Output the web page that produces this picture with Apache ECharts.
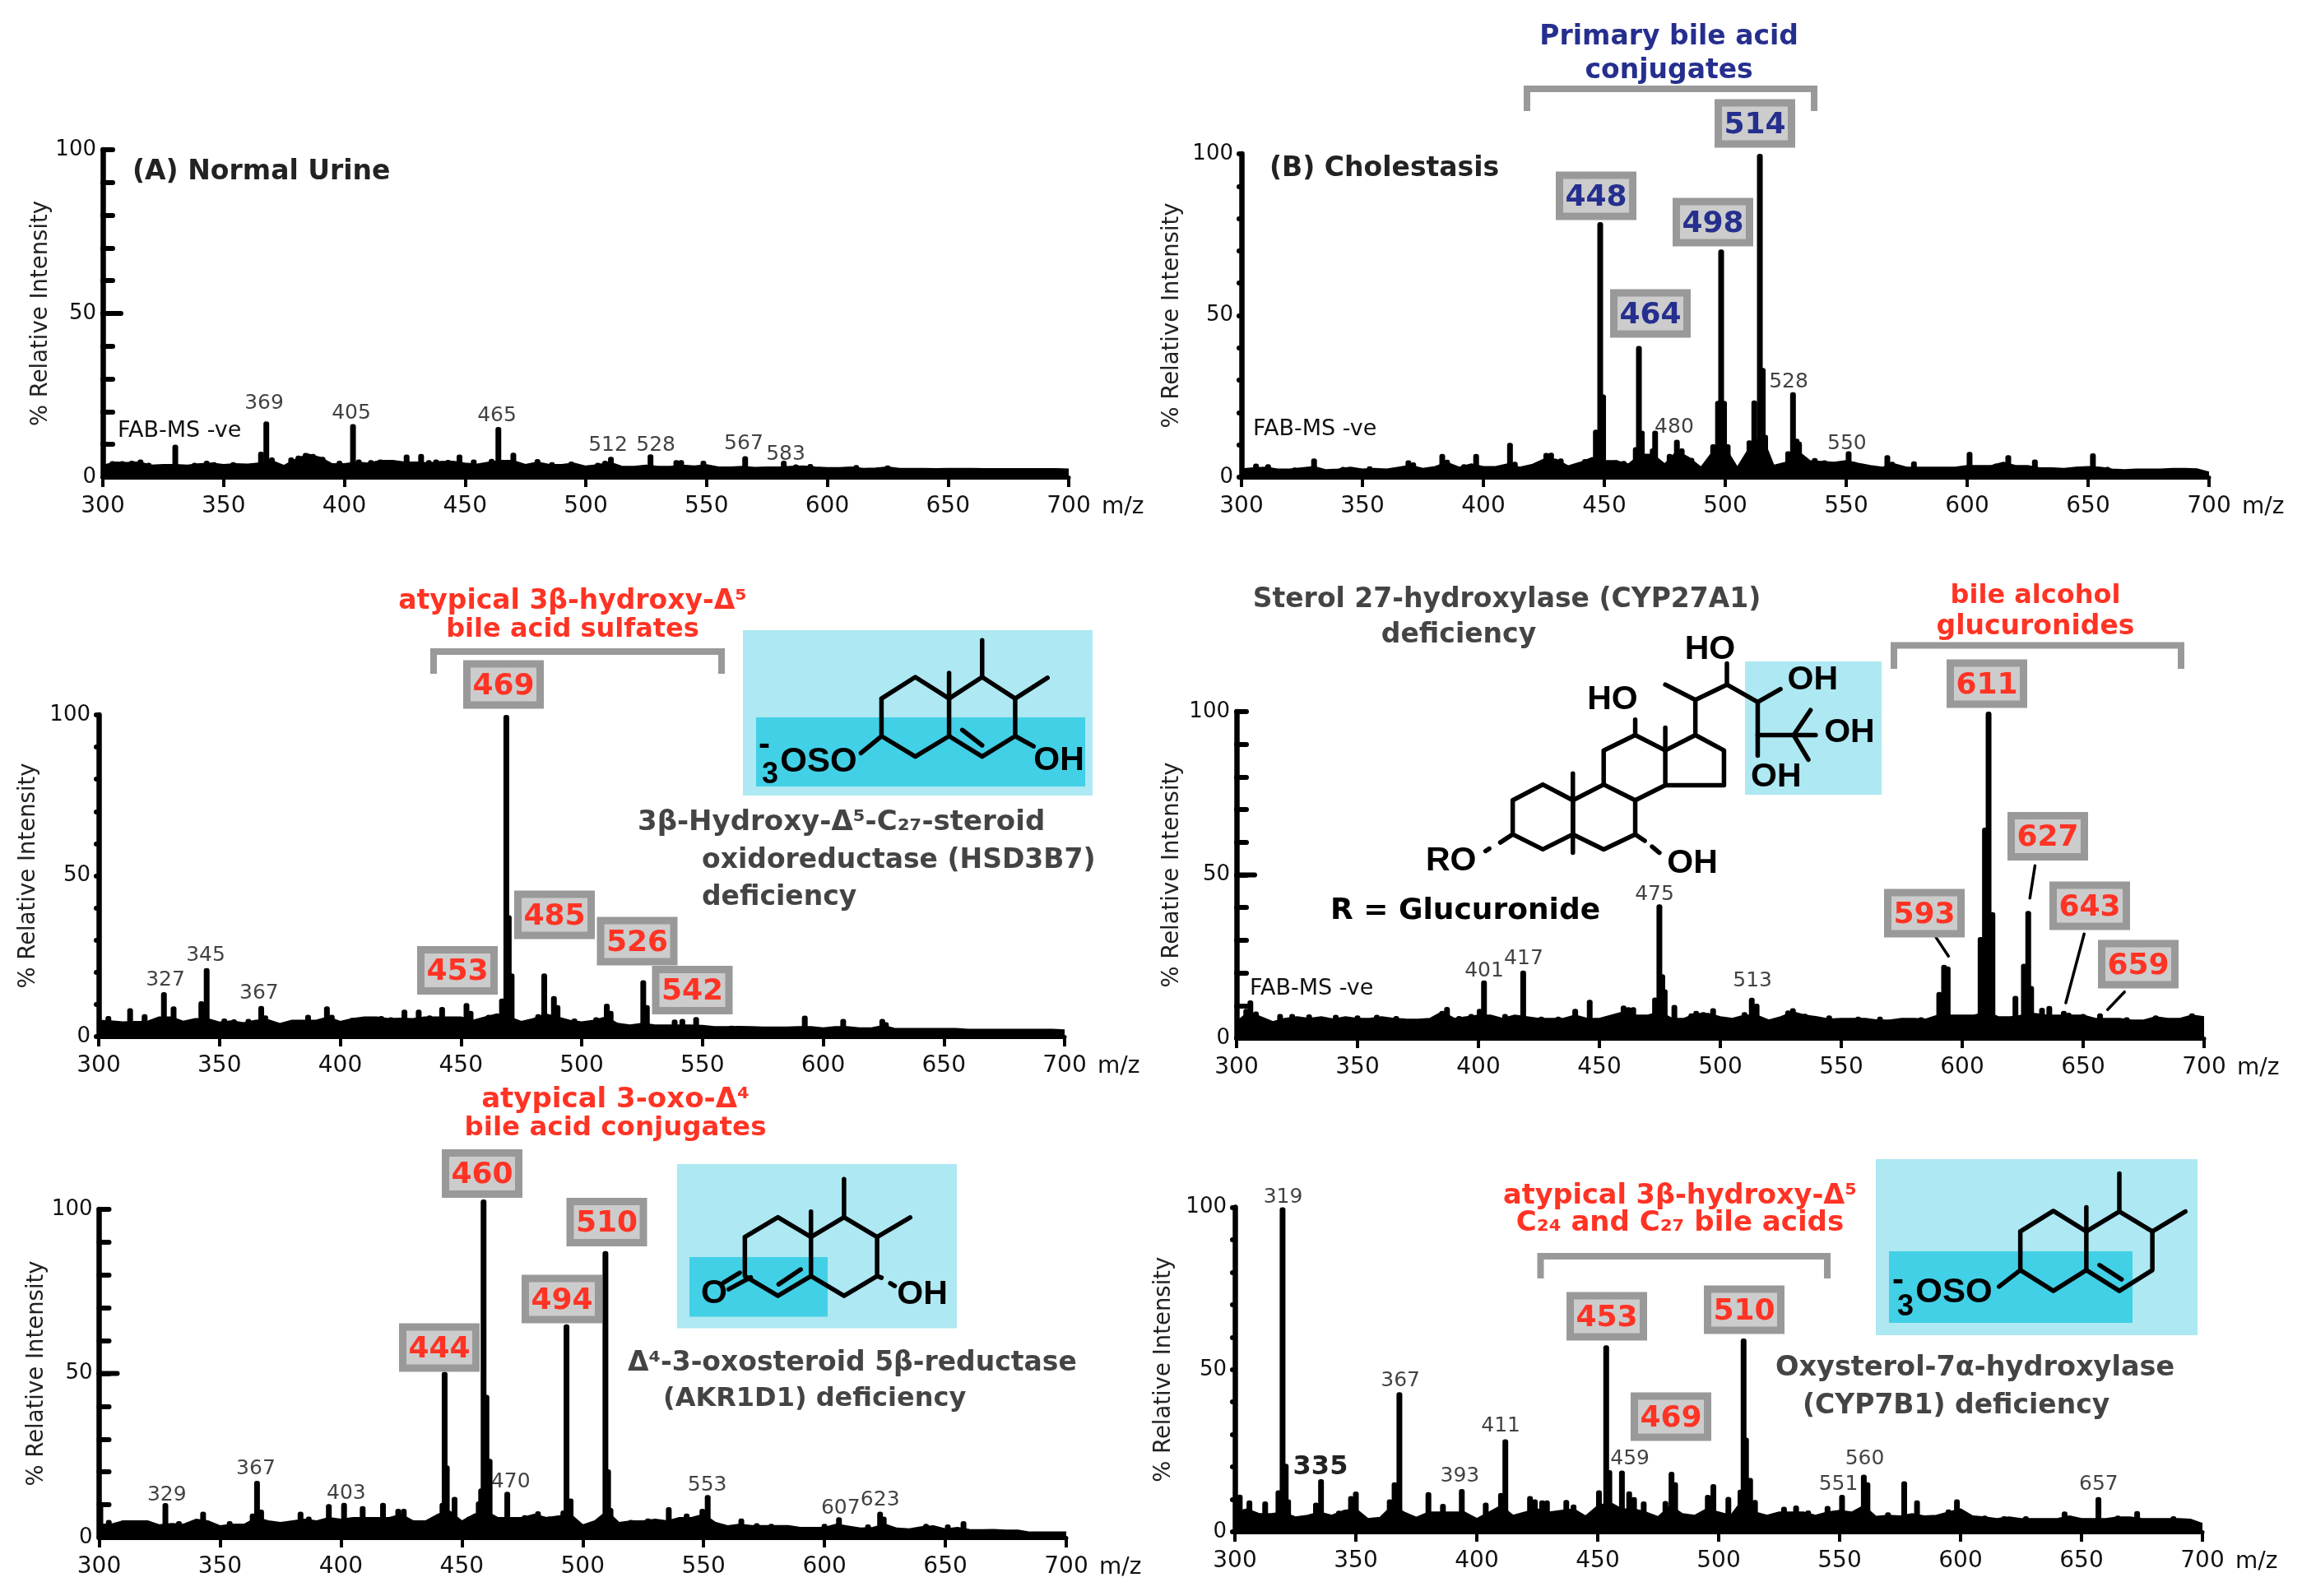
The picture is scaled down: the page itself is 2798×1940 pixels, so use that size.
<!DOCTYPE html>
<html>
<head>
<meta charset="utf-8">
<style>html,body{margin:0;padding:0;background:#fff}#c{width:2798px;height:1940px}</style>
<script src="https://cdn.jsdelivr.net/npm/echarts@6/dist/echarts.min.js"></script>
</head>
<body>
<div id="c"></div>
<script>
// ---------- DATA (m/z, % relative intensity) ----------
const envelopeA=[3.5,4.5,4.4,4.6,3.6,3.8,3.8,3.6,4.0,4.2,3.8,4.0,3.9,4.3,5.0,3.5,5.5,7,6,4,4,4.5,4.2,5,5,4.5,4.5,4.3,4.7,4.8,4.2,3.9,4.5,5,5,3.8,4.5,3.8,3.8,4.2,3.3,3.7,4.5,3.2,3.2,3.6,3.2,3.2,3.6,3.3,3.7,3.0,3.0,3.2,2.9,3.0,3.0,3.2,3.3,3,2.8,2.8,3,2.6,2.7,3,2.6,2.6,2.6,2.5,2.6,2.6,2.6,2.5,2.5,2.5,2.5,2.5,2.5,2.5,2.4];
const envelopeB=[2.5,2.8,3,2.4,2.4,2.8,3.2,2.2,2.4,3,2.4,2.6,2.4,3,3.6,2.6,3.2,4.5,3,4,3.2,3.2,4,3,3.8,5.5,5.5,3.4,4.5,6,5,5,4,7,7,4,8,6,3,8,9,3,9,13,3.6,4.5,8,5,4.8,4.5,5,4.2,3.5,3,4,3,3,3,3,3,3.5,3.5,3.5,4.5,3.5,3.5,2.8,2.8,2.6,3,3.2,3,2.4,2.2,2.4,2.4,2.4,2.6,2.6,2.5,1.5];
const envelopeC=[5,4.8,4.5,4.6,4.6,6,6,4.7,5.5,5.5,4.4,4.8,4.2,5,5.2,4,5,5,5,6,4.6,5.5,6,6,5.5,5.6,5.5,6,6,6,6,5,6,7,6,4.6,5.5,7,6,5,4.5,5,6,4,3.5,4,3.6,3.5,3.5,3.5,3.4,3,3,3.1,3,2.9,2.9,2.9,3,3,2.6,3,3,2.6,2.6,3.4,2.4,2.4,2.4,2.4,2.4,2.4,2.2,2.2,2.2,2.2,2.2,2.2,2.2,2.2,2.0];
const envelopeD=[5,8,6.5,5,6,6.5,6,6.5,5.8,6.5,6,6,6.5,6,5.8,5.7,6,8,6,6.5,7,7,6,7,6.5,6,6,6,7,6,6,7,8,7,7,8,6,6,7.5,7.5,6.5,6,7,7,5.5,6.5,8,7,6.5,5.8,6,6,6,5.5,5.5,6,6,5.8,7,7,7,7,8,6.5,6.5,7,7.5,7,7,7,7,6,6,6,5.5,5.5,6.5,6,6,7,6.5];
const envelopeE=[4,4,5,5,5,3.8,4.2,4,5.5,5,3.5,4,4,6,5,4.5,5,5.5,5,6,5.5,6,6,6,6,7,5,5,7,8,5,7,8,6,6,6,7,6,6.5,7,3.8,5,8,4.5,5,5,5.5,5,6,6,7,4.5,3.5,4,3.6,3.6,3.6,3.6,3,3,3,4,3.4,2.8,3,4,2.8,2.6,3.2,3.5,2.6,3,2.4,2.3,2.4,2.2,2.2,1.6,1.6,1.6,1.6];
const envelopeF=[6,7,5.5,5.5,6,4.5,5,6,5,6.5,7,4,4.4,8,6,4.4,6,6,6,6,4,6,8,5,6,7,6,6.5,7,4.8,8,9,7,7,6,4.6,8,5.5,5,7,6,5,10,6,5,6,6,6,5,6,6.5,6,8,4.7,5,4.8,5.5,4.8,5,6,7,4.8,4.5,4,4.5,4,4,4,4,4.8,4,4,4,4.5,4.5,4,4,4,4,3.8,2.5];

const peaksA=[[304,4.9],[308,4.9],[312,5],[315.6,5.4],[319,4.4],[330,9.9],[338,4.4],[343,5],[346,4.6],[354,4.6],[365.5,7.8],[367.7,17],[370,6],[378,6],[381,6.6],[384,7.4],[387,7.1],[391,6.2],[398,5],[403.6,16.2],[406,5.4],[411,5.2],[415,5.4],[419,5.2],[425.8,6.9],[431.8,7.1],[435,5.2],[438,5.4],[443,5.3],[447.7,6.9],[453.6,5.4],[461,5.6],[463.8,15.3],[470,7.5],[480,5.5],[486,4.6],[494,4.8],[505,4.4],[508,5],[510.4,6.2],[526.8,7],[537.5,5.2],[539.5,5.2],[548.7,5],[566,6.4],[582,5],[587,3.9],[593,4],[612,3.7],[625,3.6]];
const peaksB=[[306,4.2],[311,4],[322,3],[330,5.8],[342,3.2],[353,3.4],[369,5.2],[371,4.6],[383,7.2],[385,5.4],[392,4],[397,7.2],[411,10.6],[413,4.8],[426,7.5],[428,7.6],[432,5.8],[442,5.6],[446.5,14.7],[448.3,78.9],[449.5,25.6],[455,5.2],[458,5],[463,9.3],[464.3,40.6],[465.5,14.4],[470,8.9],[471,14.4],[477,7.2],[480,11.6],[482,8.9],[486,6],[495,10.2],[497,23.6],[498.3,70.4],[499.5,23.6],[501,10.2],[510,11.4],[512,23.7],[514.3,100],[515.5,33.8],[516.5,13.1],[526,8],[528,26.3],[529.5,11.9],[530.5,11],[537,5.9],[541,5.2],[551,8],[553,4.8],[567,6.8],[569,4.8],[578,4.9],[601,7.8],[612,4.2],[617,6.8],[628,5.5],[652,7.4],[658,3.2]];
const peaksC=[[304,6.4],[313,8.8],[319,7],[327,13.8],[331,9.4],[342.5,11],[344.7,21.3],[352,5.6],[356,5.4],[362,5.5],[367.3,9.5],[369,6.6],[386.7,6.8],[394.5,9.4],[396.5,6.8],[405,5.8],[412,6],[417,6.4],[421,6],[426.6,8.4],[432.5,8.4],[437,6.6],[442.2,9.2],[452.3,10.4],[454,8],[461.5,6.8],[467,11.8],[468.8,100],[469.8,37.7],[471,19.6],[482,7],[484.5,19.6],[488.5,12.6],[490,9.8],[497,5.6],[506,6],[510.4,10.2],[512,8],[525.5,17.5],[527,9.8],[538.5,5.3],[541.7,5.5],[547.4,6.1],[562,3.4],[592.4,6.5],[608.3,5.5],[624.5,5.5],[626,4.5]];
const peaksD=[[304,9],[305.7,11.6],[308,8.2],[318,7.4],[323,7.4],[330,7.3],[341,7.2],[350,7],[358,7.2],[366,6.8],[385,8.4],[387,9.6],[392,6.8],[397,7.4],[400.5,9],[402.3,17.7],[411,7.4],[418.5,20.7],[426,6.6],[433,6.6],[440,9],[446,11.8],[460,10],[462,9.5],[464,9.5],[473,12.5],[474.8,41],[476,19.6],[477,15],[481,10.2],[488,7.6],[490,8.4],[493,8],[497,9.2],[510,8],[513,12.4],[515,10.6],[528,8.5],[530,9.2],[535,7.5],[545,7],[557,6.6],[566,6.6],[583,6.4],[590.5,14.2],[592.5,22.5],[594,22],[607.6,31],[609.4,64.5],[610.9,100],[612.5,38.6],[622,13],[625.5,22.8],[627.3,39],[628.5,16],[633,9.3],[636,9.9],[642,8.4],[644,7.8],[650,7.4],[657,7.6],[668,6.4],[680,7],[695,7.6]];
const peaksE=[[300.5,9.8],[304,5.4],[310,5.2],[316,5.2],[327.4,10.5],[333,5],[343,7.9],[354,5],[363.5,7.3],[365.3,17.3],[367,8.5],[383.3,7.9],[386.7,6.4],[395,10.2],[401.3,10.6],[409,9.6],[417.4,10.6],[423.7,8.8],[426,8.8],[442,10.6],[442.9,50.5],[443.8,22],[447,12.4],[453,6.4],[457,11],[458,15],[459,103],[460.2,43.5],[461.5,24],[468.8,14],[476,6.8],[481.5,8],[486,6.4],[492,8.3],[493.3,65],[495,11.9],[509.4,87.3],[510.5,20.8],[511.5,9],[520,5.4],[527,5.8],[535.6,9.3],[543,7.3],[549.5,8.8],[551.7,13],[565.6,5.8],[572,4.4],[578,4.2],[600,4.2],[606,6.2],[618,4],[623,7.9],[624.5,6.4],[642,4.2],[651,4],[657.5,5]];
const peaksF=[[302,11.5],[306,9.7],[312.5,9.4],[318,12.8],[319.7,100],[321,21],[322,10],[333.5,9],[335.6,16.2],[343,6.5],[348,11],[350,12.4],[364,10],[366,15.3],[368,43],[380,12.2],[386,8.6],[393.8,13.2],[403.7,9],[410,12],[411.8,28.5],[422,11],[424,10],[427,9.7],[429,9.7],[437,9.8],[440,8.4],[450.5,12.8],[453.5,57.5],[454.8,19],[460,18.9],[463,12.5],[465,10.7],[469,9.4],[478,9.5],[480.5,18.5],[482,15.3],[495.5,11.4],[497.8,14.7],[504,10.8],[509,13],[510.3,59.6],[511.3,29],[513,16.6],[515,9.8],[527,7.7],[532,8.1],[537,6.6],[545,8],[551,11.4],[560,17.6],[561.5,15.3],[570,6],[576.7,15.6],[582,9.7],[595,6.9],[598.5,10],[601,6.5],[610,5],[618,4.8],[627,4.8],[643,6.3],[657,10.7],[665,5],[673,6.4],[688,4.8]];

const labelsA=[[366.8,23.1,'369'],[402.9,20.1,'405'],[463.2,19.3,'465'],[509.2,10.3,'512'],[529,10.3,'528'],[565.4,10.8,'567'],[582.8,7.3,'583']];
const labelsB=[[478.9,16,'480'],[526.2,29.8,'528'],[550.3,10.7,'550']];
const labelsC=[[327.6,18.1,'327'],[344.3,25.6,'345'],[366.4,14,'367']];
const labelsD=[[402.4,21.1,'401'],[418.7,24.7,'417'],[472.8,44.5,'475'],[513.3,17.9,'513']];
const labelsE=[[328,13.5,'329'],[364.8,21.5,'367'],[402.2,13.8,'403'],[470.2,17.5,'470'],[551.5,16.5,'553'],[606.7,9.3,'607'],[623,11.8,'623']];
const labelsF=[[319.9,103.6,'319'],[368.4,47.1,'367'],[393,17.5,'393'],[409.9,33.2,'411'],[463.3,23,'459'],[549.5,15.2,'551'],[560.4,23,'560'],[657.1,15,'657']];
const tickLabelsX=['300','350','400','450','500','550','600','650','700'];
const tickLabelsY=['0','50','100'];

// ---------- LAYOUT ----------
const panels=[
 {env:envelopeA,peaks:peaksA,labels:labelsA,x0:125,x1:1299,yT:182,yB:580,inside:true,gap:61},
 {env:envelopeB,peaks:peaksB,labels:labelsB,x0:1509,x1:2685,yT:187,yB:580,inside:false,gap:70},
 {env:envelopeC,peaks:peaksC,labels:labelsC,x0:120,x1:1294,yT:869,yB:1260,inside:false,gap:71},
 {env:envelopeD,peaks:peaksD,labels:labelsD,x0:1503,x1:2679,yT:865,yB:1262,inside:true,gap:64},
 {env:envelopeE,peaks:peaksE,labels:labelsE,x0:120.5,x1:1296,yT:1470,yB:1869,inside:true,gap:62},
 {env:envelopeF,peaks:peaksF,labels:labelsF,x0:1501,x1:2677,yT:1467.5,yB:1862,inside:false,gap:72}
];
const FONT='"DejaVu Sans"';
const NAVY='#252f8e',RED='#ff3324',DGREY='#444444',GREY='#999999',PALE='#aee8f2',CYAN='#42d0e6';
const g=[];
function T(text,x,y,size,fill,bold,align,family){
  g.push({type:'text',x:x,y:y+1.5,z:20,style:{text:text,fill:fill||'#111',font:(bold?'bold ':'')+size+'px '+(family||FONT),textAlign:align||'center',textVerticalAlign:'middle'}});
}
function R(x0,y0,x1,y1,fill){g.push({type:'rect',z:5,shape:{x:x0,y:y0,width:x1-x0,height:y1-y0},style:{fill:fill}});}
function box(cx,cy,text,color){
  g.push({type:'rect',z:30,shape:{x:cx-44.5,y:cy-25,width:89,height:50},style:{fill:'#cccccc',stroke:GREY,lineWidth:9}});
  g.push({type:'text',x:cx,y:cy+2.5,z:31,style:{text:text,fill:color,font:'bold 36px '+FONT,textAlign:'center',textVerticalAlign:'middle'}});
}
function bracket(x0,x1,yt,yb){
  g.push({type:'polyline',z:6,shape:{points:[[x0,yb],[x0,yt],[x1,yt],[x1,yb]]},style:{stroke:GREY,lineWidth:8,fill:null}});
}
function bonds(map,list,w){
  list.forEach(p=>g.push({type:'polyline',z:15,shape:{points:p.map(map)},style:{stroke:'#000',lineWidth:w||5.5,fill:null,lineCap:'round',lineJoin:'round'}}));
}
const SF='"Liberation Sans"';

// Panel A
T('(A) Normal Urine',161,208,33,'#222',true,'left');
T('FAB-MS -ve',143,522,27,'#111',false,'left');
// Panel B
T('(B) Cholestasis',1543,204,33,'#222',true,'left');
T('FAB-MS -ve',1523,520,27,'#111',false,'left');
T('Primary bile acid',2028.6,44,33,NAVY,true);
T('conjugates',2028.6,85,33,NAVY,true);
bracket(1856,2205,108,135);
box(2133,150,'514',NAVY);box(1940,238,'448',NAVY);box(2082,270,'498',NAVY);box(2006,381,'464',NAVY);
// Panel C
T('atypical 3β-hydroxy-Δ⁵',696,730,33,RED,true);
T('bile acid sulfates',696,764,32,RED,true);
bracket(527,877,792,819);
box(612,832,'469',RED);box(674,1112,'485',RED);box(774.5,1144,'526',RED);box(556,1179.5,'453',RED);box(841.5,1203.5,'542',RED);
R(903,766,1328,967,PALE);R(919,872,1319,956,CYAN);
const mC=p=>[p[0]/1.12,680+p[1]/2.412];
bonds(mC,[[[1200,408],[1246,345],[1292,408],[1292,518],[1246,578],[1200,518],[1200,408]],[[1292,408],[1337,345],[1382,408],[1382,518],[1337,578],[1292,518]],[[1337,345],[1337,237]],[[1292,408],[1292,333]],[[1382,408],[1426,347]],[[1310,500],[1337,545]],[[1200,518],[1172,568]],[[1382,518],[1407,548]]]);
T('OH',1287,923,41,'#000',true,'center',SF);
T('OSO',995,925,42,'#000',true,'center',SF);
T('3',936,941,36,'#000',true,'center',SF);
T('-',929,905,42,'#000',true,'center',SF);
T('3β-Hydroxy-Δ⁵-C₂₇-steroid',775,999,34,DGREY,true,'left');
T('oxidoreductase (HSD3B7)',853,1045,33,DGREY,true,'left');
T('deficiency',853,1090,33,DGREY,true,'left');
// Panel D
T('FAB-MS -ve',1519,1200,27,'#111',false,'left');
T('Sterol 27-hydroxylase (CYP27A1)',1831.5,728,33,DGREY,true);
T('deficiency',1773,771,33,DGREY,true);
T('bile alcohol',2474,723.5,32,RED,true);
T('glucuronides',2474,761,33,RED,true);
bracket(2302,2651,784.5,813);
box(2415,831,'611',RED);box(2489,1016.5,'627',RED);box(2339,1110,'593',RED);box(2540,1101,'643',RED);box(2599,1172,'659',RED);
R(2121,804,2287,966,PALE);
const mD=p=>[1400+p[0]/1.1216,680+p[1]/2.412];
bonds(mD,[[[1069,1108],[1086,1163]],[[1204,898],[1197,993]],[[1271,1098],[1246,1300]],[[1326,1268],[1303,1320]]],3.5);
bonds(mD,[[[492,706],[533,660],[574,706],[574,806],[533,850],[492,806],[492,706]],[[574,706],[616,660],[659,706],[659,806],[616,850],[574,806]],[[616,660],[616,560],[659,515],[700,560],[700,662],[659,706]],[[700,560],[741,515],[780,560],[780,662],[700,662]],[[574,628],[574,860]],[[700,493],[700,560]],[[659,515],[659,470]],[[741,515],[741,412],[700,367]],[[741,412],[784,367],[826,418],[857,380]],[[784,367],[784,305]],[[826,418],[826,575]],[[826,515],[905,515]],[[875,515],[898,442]],[[875,515],[895,587]],[[492,806],[475,830]],[[460,848],[455,855]],[[659,806],[672,825]],[[682,842],[692,860]]]);
[['HO',761,262],['HO',628,408],['OH',901,350],['OH',951,505],['OH',851,635],['RO',408,880],['OH',737,888]].forEach(a=>{const q=mD([a[1],a[2]]);T(a[0],q[0],q[1],41,'#000',true,'center',SF);});
T('R = Glucuronide',1617,1106,36,'#000',true,'left');
// Panel E
T('atypical 3-oxo-Δ⁴',748,1336,34,RED,true);
T('bile acid conjugates',748,1370,32.5,RED,true);
box(586,1426.5,'460',RED);box(737.5,1485.5,'510',RED);box(683,1579,'494',RED);box(534,1638,'444',RED);
R(823,1415,1163,1614.5,PALE);R(838,1528,1006,1600.5,CYAN);
const mE=p=>[p[0]/1.12,1310+p[1]/2.489];
bonds(mE,[[[1014,482],[1059,422],[1104,482],[1104,600],[1059,660],[1014,600],[1014,482]],[[1104,482],[1149,422],[1194,482],[1194,600],[1149,660],[1104,600]],[[1149,422],[1149,307]],[[1104,482],[1104,405]],[[1194,482],[1239,423]],[[1007,590],[985,620]],[[1022,604],[992,640]],[[1060,625],[1090,580]],[[1194,600],[1200,605]],[[1212,622],[1218,630]]]);
T('O',868,1571,41,'#000',true,'center',SF);
T('OH',1121,1572,41,'#000',true,'center',SF);
T('Δ⁴-3-oxosteroid 5β-reductase',763,1655.5,33,DGREY,true,'left');
T('(AKR1D1) deficiency',806,1699,32,DGREY,true,'left');
// Panel F
T('335',1605,1782,32,'#222',true);
T('atypical 3β-hydroxy-Δ⁵',2042,1452.6,33.5,RED,true);
T('C₂₄ and C₂₇ bile acids',2042,1485.6,34,RED,true);
bracket(1872.5,2221,1527,1554);
box(1953,1600,'453',RED);box(2120,1592,'510',RED);box(2031,1722,'469',RED);
R(2280,1409,2671,1623,PALE);R(2296,1521,2592,1608,CYAN);
const mF=p=>[1400+p[0]/1.1216,1310+p[1]/2.489];
bonds(mF,[[[1184,465],[1229,403],[1274,465],[1274,582],[1229,645],[1184,582],[1184,465]],[[1274,465],[1319,405],[1364,465],[1364,582],[1319,645],[1274,582]],[[1319,405],[1319,290]],[[1274,465],[1274,392]],[[1364,465],[1409,405]],[[1292,567],[1322,610]],[[1184,582],[1155,632]]]);
T('OSO',2375,1570,42,'#000',true,'center',SF);
T('3',2316,1588,36,'#000',true,'center',SF);
T('-',2307,1556,42,'#000',true,'center',SF);
T('Oxysterol-7α-hydroxylase',2158,1661.5,33.5,DGREY,true,'left');
T('(CYP7B1) deficiency',2191,1708,33,DGREY,true,'left');

// axis furniture per panel
panels.forEach(p=>{
  T('m/z',p.x1+40,p.yB+35,28,'#111',false,'left');
  if(p.inside){g.push({type:'line',z:12,shape:{x1:p.x0,y1:(p.yT+p.yB)/2,x2:p.x0+22,y2:(p.yT+p.yB)/2},style:{stroke:'#000',lineWidth:6,lineCap:'round'}});}
});

const grids=[],xAxes=[],yAxes=[],series=[];
panels.forEach((p,i)=>{
  grids.push({left:p.x0,top:p.yT,width:p.x1-p.x0,height:p.yB-p.yT,containLabel:false});
  xAxes.push({gridIndex:i,type:'value',min:300,max:700,interval:50,splitLine:{show:false},
    axisLine:{onZero:false,lineStyle:{color:'#000',width:5}},
    axisTick:{length:12,inside:false,lineStyle:{color:'#000',width:4}},
    axisLabel:{fontFamily:FONT,fontSize:28,color:'#111',margin:22,
      formatter:v=>tickLabelsX.includes(String(v))?String(v):''}});
  yAxes.push({gridIndex:i,type:'value',min:0,max:100,interval:10,splitLine:{show:false},
    name:'% Relative Intensity',nameLocation:'middle',nameGap:p.gap,nameRotate:90,
    nameTextStyle:{fontFamily:FONT,fontSize:27.5,color:'#222'},
    axisLine:{show:true,lineStyle:{color:'#000',width:6.5}},
    axisTick:{show:true,inside:p.inside,length:p.inside?12:3,lineStyle:{color:'#000',width:p.inside?6:6,cap:'round'}},
    axisLabel:{fontFamily:FONT,fontSize:26,color:'#111',margin:p.inside?8:10,padding:[10,0,0,0],
      formatter:v=>tickLabelsY.includes(String(v))?String(v):''}});
  series.push({type:'line',xAxisIndex:i,yAxisIndex:i,silent:true,symbol:'none',z:2,
    lineStyle:{color:'#000',width:2},areaStyle:{color:'#000',opacity:1},
    data:p.env.map((v,k)=>[300+5*k,v])});
  series.push({type:'bar',xAxisIndex:i,yAxisIndex:i,silent:true,barWidth:7,clip:false,z:3,
    itemStyle:{color:'#000',borderRadius:[3,3,0,0]},data:p.peaks});
  series.push({type:'scatter',xAxisIndex:i,yAxisIndex:i,silent:true,symbolSize:1,clip:false,z:4,
    itemStyle:{color:'rgba(0,0,0,0)'},
    label:{show:true,position:'inside',offset:[0,2],fontFamily:FONT,fontSize:25,color:'#111',formatter:q=>q.data[2]},
    data:p.labels});
});

const chart=echarts.init(document.getElementById('c'),null,{renderer:'canvas'});
chart.setOption({animation:false,backgroundColor:'#fff',grid:grids,xAxis:xAxes,yAxis:yAxes,series:series,graphic:{elements:g}});
</script>
</body>
</html>
